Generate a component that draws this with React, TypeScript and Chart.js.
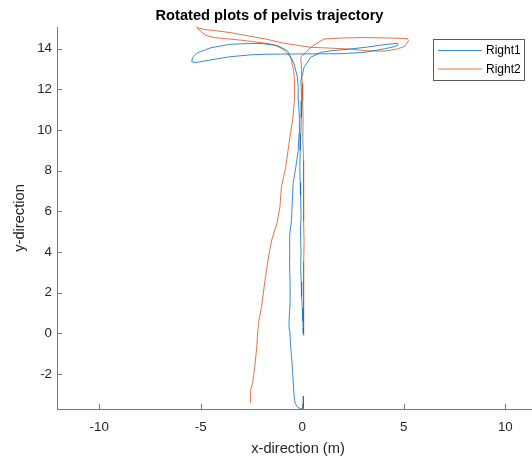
import { useEffect, useRef } from "react";
import { Chart, registerables } from "chart.js";

Chart.register(...registerables);

const chartTitle = "Rotated plots of pelvis trajectory";
const xLabel = "x-direction (m)";
const yLabel = "y-direction";
const seriesNames = ["Right1", "Right2"];
const seriesColors = ["#0072BD", "#D95319"];

const xTicks = [-10, -5, 0, 5, 10];
const yTicks = [-2, 0, 2, 4, 6, 8, 10, 12, 14];
const xRange = [-12.08, 11.66];
const yRange = [-3.73, 15.07];

const right1X = [
  0.05, 0.06, 0.05, -0.1, -0.25, -0.35, -0.4, -0.44, -0.48, -0.53, -0.57, -0.62, -0.65, -0.6, -0.6, -0.63,
  -0.62, -0.53, -0.5, -0.45, -0.32, -0.2, -0.16, -0.14, -0.19, -0.2, -0.24, -0.4, -0.73, -1.2, -2.03, -2.8,
  -3.52, -4.5, -5.16, -5.41, -5.44, -5.25, -4.34, -3.52, -2.54, -1.8, -0.5, 1.0, 2.0, 3.04, 4.03, 4.6, 4.72,
  4.69, 4.03, 3.2, 2.39, 1.4, 0.91, 0.42, 0.09, -0.07, -0.02, -0.05, -0.07, -0.1, -0.12, -0.1, -0.08, -0.06,
  -0.09, -0.06, -0.08, -0.05, -0.03, 0.0, 0.03, 0.04, 0.05,
];
const right1Y = [
  -3.1, -3.5, -3.7, -3.72, -3.62, -3.45, -3.13, -2.5, -1.82, -1.1, -0.67, 0.2, 0.64, 1.5, 2.52, 3.5, 4.82,
  5.55, 6.3, 7.37, 8.16, 9.0, 9.83, 10.6, 11.45, 12.1, 12.6, 13.25, 13.9, 14.15, 14.26, 14.25, 14.22,
  14.05, 13.8, 13.56, 13.35, 13.32, 13.48, 13.61, 13.7, 13.73, 13.74, 13.75, 13.76, 13.82, 13.99, 14.12,
  14.2, 14.27, 14.2, 14.08, 13.99, 13.9, 13.82, 13.58, 13.09, 12.43, 11.45, 10.6, 9.83, 9.0, 8.16, 7.4,
  6.8, 5.8, 5.0, 4.0, 3.2, 2.52, 1.8, 1.23, 0.6, 0.25, 0.0,
];

const right2X = [
  -2.54, -2.55, -2.54, -2.45, -2.34, -2.24, -2.2, -2.13, -2.01, -1.88, -1.75, -1.6, -1.5, -1.25, -1.1,
  -1.03, -0.82, -0.7, -0.58, -0.46, -0.39, -0.38, -0.42, -0.57, -0.95, -1.4, -2.03, -3.0, -4.34, -4.75,
  -4.95, -5.2, -4.84, -4.2, -3.52, -2.6, -1.8, -0.9, 0.42, 1.4, 2.39, 3.2, 4.03, 4.69, 5.05, 5.23, 5.18,
  4.2, 3.0, 2.0, 1.07, 0.45, -0.07, -0.04, 0.0, 0.02, 0.04, 0.03, 0.06, 0.05, 0.08, 0.07, 0.09, 0.07,
  0.05, 0.06, 0.05, 0.08, 0.08,
];
const right2Y = [
  -3.45, -3.0, -2.8, -2.47, -1.66, -0.67, 0.0, 0.64, 1.28, 2.26, 3.2, 4.1, 4.6, 5.4, 6.2, 7.17, 8.16, 9.0,
  9.83, 10.6, 11.45, 12.3, 12.92, 13.58, 13.98, 14.2, 14.3, 14.42, 14.55, 14.66, 14.82, 15.04, 14.95,
  14.88, 14.79, 14.62, 14.48, 14.27, 14.07, 14.03, 13.98, 13.9, 13.88, 13.99, 14.12, 14.38, 14.5, 14.53,
  14.55, 14.53, 14.48, 14.1, 13.58, 13.0, 12.3, 11.45, 10.5, 9.5, 8.5, 7.5, 6.5, 5.5, 4.5, 3.5, 2.5, 1.5,
  0.8, 0.3, -0.1,
];

const FONT = '"Liberation Sans", Arial, Helvetica, sans-serif';
const AXIS_COLOR = "#7a7a7a";
const TEXT_COLOR = "#262626";

export default function App() {
  const canvasRef = useRef<HTMLCanvasElement>(null);

  useEffect(() => {
    const canvas = canvasRef.current;
    if (!canvas) return;

    const toPoints = (xs: number[], ys: number[]) => xs.map((x, i) => ({ x, y: ys[i] }));

    const inwardTicks = {
      id: "inwardTicks",
      afterDatasetsDraw(chart: any) {
        const { ctx, chartArea } = chart;
        const xs = chart.scales.x;
        const ys = chart.scales.y;
        ctx.save();
        ctx.strokeStyle = AXIS_COLOR;
        ctx.lineWidth = 1;
        ctx.beginPath();
        xTicks.forEach((v) => {
          const p = Math.round(xs.getPixelForValue(v)) + 0.5;
          ctx.moveTo(p, chartArea.bottom);
          ctx.lineTo(p, chartArea.bottom - 5);
        });
        yTicks.forEach((v) => {
          const p = Math.round(ys.getPixelForValue(v)) + 0.5;
          ctx.moveTo(chartArea.left, p);
          ctx.lineTo(chartArea.left + 5, p);
        });
        ctx.stroke();
        ctx.restore();
      },
    };

    const legendBox = {
      id: "legendBox",
      afterDraw(chart: any) {
        const { ctx } = chart;
        const bx = 433.5, by = 39.5, bw = 91, bh = 41;
        ctx.save();
        ctx.fillStyle = "#ffffff";
        ctx.fillRect(bx, by, bw, bh);
        ctx.strokeStyle = "#5a5a5a";
        ctx.lineWidth = 1;
        ctx.strokeRect(bx, by, bw, bh);
        ctx.font = `12px ${FONT}`;
        ctx.textBaseline = "middle";
        ctx.textAlign = "left";
        chart.data.datasets.forEach((ds: any, i: number) => {
          const y = 50.5 + i * 18.5;
          ctx.strokeStyle = ds.borderColor;
          ctx.lineWidth = 0.8;
          ctx.beginPath();
          ctx.moveTo(438, y);
          ctx.lineTo(482, y);
          ctx.stroke();
          ctx.fillStyle = "#000000";
          ctx.fillText(ds.label, 486, y + 0.5);
        });
        ctx.restore();
      },
    };

    const chart = new Chart(canvas, {
      type: "scatter",
      data: {
        datasets: [
          {
            label: seriesNames[0],
            data: toPoints(right1X, right1Y),
            borderColor: seriesColors[0],
            backgroundColor: seriesColors[0],
            borderWidth: 0.8,
            showLine: true,
            pointRadius: 0,
            tension: 0,
          },
          {
            label: seriesNames[1],
            data: toPoints(right2X, right2Y),
            borderColor: seriesColors[1],
            backgroundColor: seriesColors[1],
            borderWidth: 0.8,
            showLine: true,
            pointRadius: 0,
            tension: 0,
          },
        ],
      },
      options: {
        animation: false,
        responsive: false,
        maintainAspectRatio: false,
        devicePixelRatio: 1,
        events: [],
        layout: { padding: 0 },
        plugins: {
          legend: { display: false },
          tooltip: { enabled: false },
          title: {
            display: true,
            text: chartTitle,
            color: "#000000",
            font: { family: FONT, size: 14.67, weight: "bold", lineHeight: 1.2 },
            padding: { top: 7, bottom: 2.4 },
          },
        },
        scales: {
          x: {
            type: "linear",
            min: xRange[0],
            max: xRange[1],
            afterBuildTicks: (scale: any) => {
              scale.ticks = xTicks.map((v) => ({ value: v }));
            },
            afterFit: (scale: any) => {
              scale.height = 52;
            },
            grid: { display: true, drawOnChartArea: false, drawTicks: false },
            border: { display: true, color: AXIS_COLOR, width: 1 },
            ticks: {
              color: TEXT_COLOR,
              font: { family: FONT, size: 13.33 },
              padding: 10,
              autoSkip: false,
              maxRotation: 0,
              callback: (v: any) => String(v),
            },
            title: {
              display: true,
              text: xLabel,
              color: TEXT_COLOR,
              font: { family: FONT, size: 14.67, lineHeight: 1.2 },
              padding: { top: 0, bottom: 3.6 },
            },
          },
          y: {
            type: "linear",
            min: yRange[0],
            max: yRange[1],
            afterBuildTicks: (scale: any) => {
              scale.ticks = yTicks.map((v) => ({ value: v }));
            },
            afterFit: (scale: any) => {
              scale.width = 57;
            },
            grid: { display: true, drawOnChartArea: false, drawTicks: false },
            border: { display: true, color: AXIS_COLOR, width: 1 },
            ticks: {
              color: TEXT_COLOR,
              font: { family: FONT, size: 13.33 },
              padding: 5,
              autoSkip: false,
              callback: (v: any) => String(v),
            },
            title: {
              display: true,
              text: yLabel,
              color: TEXT_COLOR,
              font: { family: FONT, size: 14.67, lineHeight: 1.2 },
              padding: { top: 11.2, bottom: 0 },
            },
          },
        },
      },
      plugins: [inwardTicks, legendBox],
    });

    return () => {
      chart.destroy();
    };
  }, []);

  return (
    <div
      style={{
        position: "fixed",
        left: 0,
        top: 0,
        width: 532,
        height: 461,
        overflow: "hidden",
        background: "#ffffff",
      }}
    >
      <canvas ref={canvasRef} width={539} height={461} style={{ display: "block", width: 539, height: 461 }} />
    </div>
  );
}
